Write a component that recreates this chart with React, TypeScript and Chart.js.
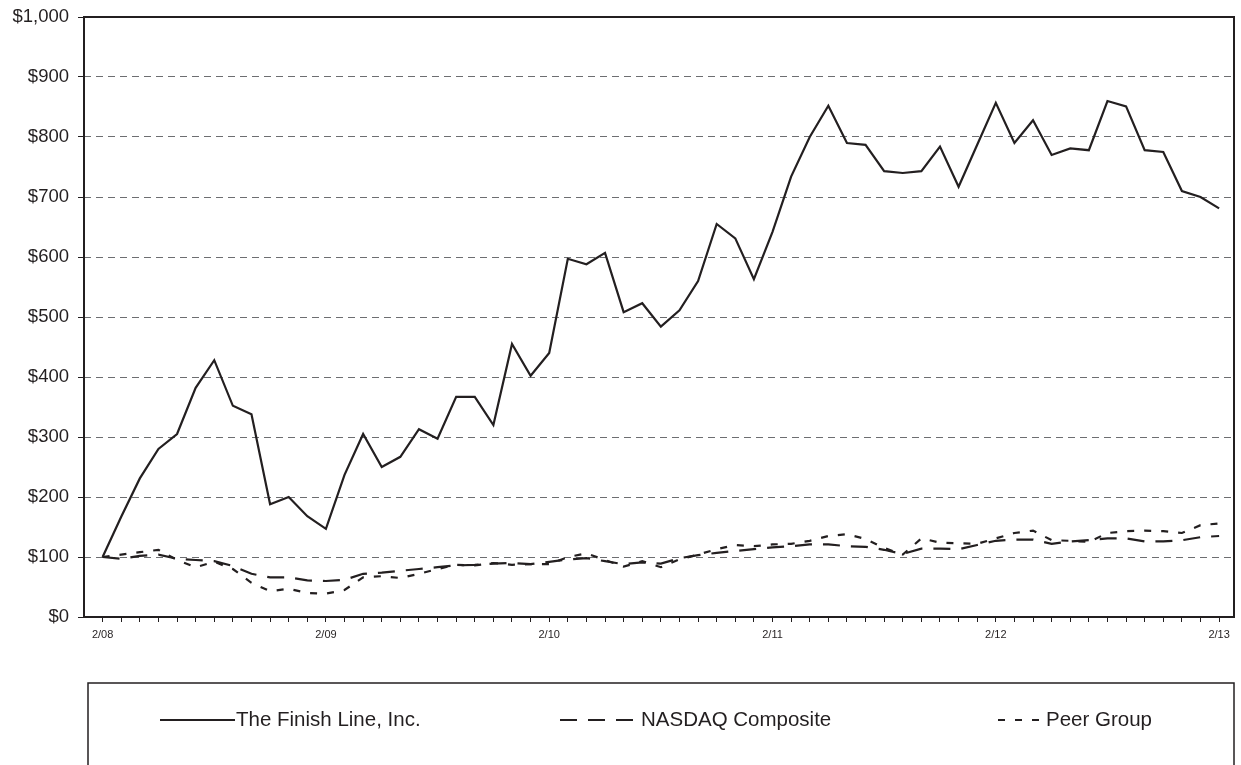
import React, { useEffect, useRef } from "react";
import { Chart, registerables } from "chart.js";

Chart.register(...registerables);

// Month index 0 = 2/08 ... 60 = 2/13
const monthIndex: number[] = [
  0, 1, 2, 3, 4, 5, 6, 7, 8, 9, 10, 11, 12, 13, 14, 15, 16, 17, 18, 19, 20,
  21, 22, 23, 24, 25, 26, 27, 28, 29, 30, 31, 32, 33, 34, 35, 36, 37, 38, 39,
  40, 41, 42, 43, 44, 45, 46, 47, 48, 49, 50, 51, 52, 53, 54, 55, 56, 57, 58,
  59, 60,
];
const xTickLabels: string[] = ["2/08", "2/09", "2/10", "2/11", "2/12", "2/13"];
const yTickValues: number[] = [0, 100, 200, 300, 400, 500, 600, 700, 800, 900, 1000];

const seriesNames: string[] = ["The Finish Line, Inc.", "NASDAQ Composite", "Peer Group"];

const finishLine: number[] = [
  100, 167, 231, 280, 305, 382, 428, 352, 338, 188, 200, 168, 147,
  237, 305, 250, 267, 313, 297, 367, 367, 320, 455, 402, 440,
  597, 588, 607, 508, 523, 484, 511, 560, 655, 631, 563, 642,
  734, 800, 852, 790, 787, 743, 740, 743, 784, 717, 787, 857,
  790, 828, 770, 781, 778, 860, 851, 778, 775, 710, 700, 681,
];

const nasdaq: number[] = [
  100, 97, 102, 104, 97, 95, 93, 85, 72, 66, 66, 61, 60,
  62, 72, 74, 77, 80, 83, 86, 87, 89, 90, 88, 92,
  96, 98, 93, 88, 91, 89, 98, 103, 107, 110, 113, 116,
  118, 121, 121, 118, 117, 112, 105, 114, 114, 113, 120, 127,
  129, 129, 122, 126, 128, 131, 131, 126, 126, 128, 133, 135,
];

const peerGroup: number[] = [
  100, 104, 108, 112, 95, 83, 92, 80, 57, 43, 47, 40, 39,
  45, 66, 68, 65, 72, 80, 87, 86, 90, 87, 88, 88,
  100, 106, 95, 84, 93, 83, 96, 104, 113, 120, 118, 121,
  122, 127, 135, 138, 130, 115, 104, 131, 124, 123, 122, 131,
  140, 144, 128, 127, 125, 140, 143, 144, 143, 140, 153, 156,
];

const INK = "#231f20";
const FONT = "'Liberation Sans', Arial, Helvetica, sans-serif";

const toPoints = (arr: number[]) => arr.map((v, i) => ({ x: monthIndex[i], y: v }));

const framePlugin = {
  id: "frameAndLegend",
  afterDraw(chart: any) {
    const { ctx, chartArea } = chart;
    const { left, top, right, bottom } = chartArea;
    ctx.save();
    ctx.setLineDash([]);
    ctx.strokeStyle = INK;
    ctx.lineWidth = 2;
    ctx.strokeRect(left, top, right - left, bottom - top);

    // legend box
    ctx.lineWidth = 1.5;
    ctx.strokeRect(88, 683, 1146, 120);

    const entries = [
      { x1: 160, x2: 235, tx: 236 },
      { x1: 560, x2: 636, tx: 641 },
      { x1: 998, x2: 1040, tx: 1046 },
    ];
    const y = 720;
    chart.data.datasets.forEach((ds: any, i: number) => {
      const e = entries[i];
      ctx.beginPath();
      ctx.lineWidth = 2;
      ctx.strokeStyle = INK;
      ctx.setLineDash(ds.borderDash || []);
      ctx.moveTo(e.x1, y);
      ctx.lineTo(e.x2, y);
      ctx.stroke();
      ctx.setLineDash([]);
      ctx.fillStyle = INK;
      ctx.font = `20.5px ${FONT}`;
      ctx.textBaseline = "middle";
      ctx.textAlign = "left";
      ctx.fillText(ds.label, e.tx, y);
    });
    ctx.restore();
  },
};

export default function App() {
  const canvasRef = useRef<HTMLCanvasElement | null>(null);

  useEffect(() => {
    const canvas = canvasRef.current;
    if (!canvas) return;
    const chart = new Chart(canvas, {
      type: "line",
      data: {
        datasets: [
          {
            label: seriesNames[0],
            data: toPoints(finishLine),
            borderColor: INK,
            borderWidth: 2.2,
            pointRadius: 0,
            tension: 0,
            fill: false,
          },
          {
            label: seriesNames[1],
            data: toPoints(nasdaq),
            borderColor: INK,
            borderWidth: 2.2,
            borderDash: [17, 11],
            pointRadius: 0,
            tension: 0,
            fill: false,
          },
          {
            label: seriesNames[2],
            data: toPoints(peerGroup),
            borderColor: INK,
            borderWidth: 2.2,
            borderDash: [7, 10],
            pointRadius: 0,
            tension: 0,
            fill: false,
          },
        ],
      },
      options: {
        animation: false,
        responsive: false,
        maintainAspectRatio: false,
        devicePixelRatio: 1,
        layout: { padding: { top: 17, right: 7, left: 0, bottom: 0 } },
        plugins: {
          legend: { display: false },
          tooltip: { enabled: false },
        },
        scales: {
          x: {
            type: "linear",
            min: -1,
            max: 60.8,
            afterBuildTicks: (scale: any) => {
              scale.ticks = monthIndex.map((v) => ({ value: v }));
            },
            afterFit: (scale: any) => {
              scale.height = 148;
              scale.paddingLeft = 0;
              scale.paddingRight = 0;
            },
            ticks: {
              autoSkip: false,
              maxRotation: 0,
              minRotation: 0,
              padding: 6,
              color: INK,
              font: { family: FONT, size: 11 },
              callback: (v: any) => {
                const n = Number(v);
                return n % 12 === 0 ? xTickLabels[n / 12] : "";
              },
            },
            grid: {
              drawOnChartArea: false,
              drawTicks: true,
              tickLength: 5,
              tickColor: INK,
              tickWidth: 1,
            },
            border: { display: false },
          },
          y: {
            type: "linear",
            min: 0,
            max: 1000,
            afterBuildTicks: (scale: any) => {
              scale.ticks = yTickValues.map((v) => ({ value: v }));
            },
            afterFit: (scale: any) => {
              scale.width = 84;
              scale.paddingTop = 0;
              scale.paddingBottom = 0;
            },
            ticks: {
              padding: 9,
              color: INK,
              font: { family: FONT, size: 18.5 },
              callback: (v: any) => "$" + Number(v).toLocaleString("en-US"),
            },
            grid: {
              color: "#6d6e71",
              lineWidth: 1,
              drawTicks: true,
              tickLength: 6,
              tickColor: INK,
              tickWidth: 1,
            },
            border: { display: false, dash: [7, 5] },
          },
        },
      },
      plugins: [framePlugin],
    });
    return () => chart.destroy();
  }, []);

  return (
    <div
      style={{
        position: "fixed",
        left: 0,
        top: 0,
        width: 1241,
        height: 765,
        background: "#ffffff",
      }}
    >
      <canvas ref={canvasRef} width={1241} height={765} style={{ display: "block" }} />
    </div>
  );
}
